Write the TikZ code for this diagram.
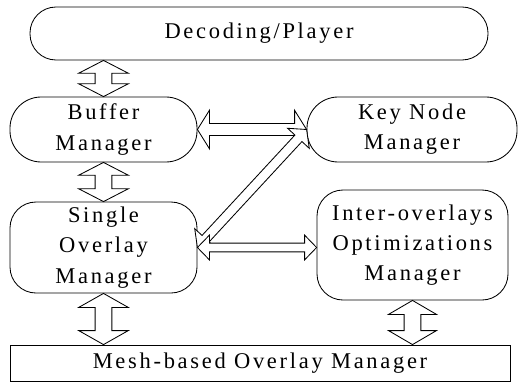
\documentclass[tikz,border=0pt]{standalone}
\usepackage{fontspec}
\setmainfont[LetterSpace=12]{Liberation Serif}
\usetikzlibrary{calc}

\tikzset{
	module/.style={draw, line width=0.6pt, rounded corners=0.65cm, align=center, inner sep=0pt,
		font=\fontsize{16}{21.5}\selectfont},
	layer/.style={draw, line width=0.6pt, align=center, inner sep=0pt,
		font=\fontsize{16}{21.5}\selectfont},
	hollow/.style={draw, line width=0.6pt, fill=white, line join=miter},
}

% 双向空心箭头: 起点, 终点, 半杆宽, 半头宽, 头长
\newcommand{\dblarrow}[5]{%
	\draw[hollow] (#1)
	-- ($(#1)!#5!(#2)!#4!90:(#2)$)
	-- ($(#1)!#5!(#2)!#3!90:(#2)$)
	-- ($(#2)!#5!(#1)!#3!-90:(#1)$)
	-- ($(#2)!#5!(#1)!#4!-90:(#1)$)
	-- (#2)
	-- ($(#2)!#5!(#1)!#4!90:(#1)$)
	-- ($(#2)!#5!(#1)!#3!90:(#1)$)
	-- ($(#1)!#5!(#2)!#3!-90:(#2)$)
	-- ($(#1)!#5!(#2)!#4!-90:(#2)$)
	-- cycle;}

\begin{document}
\begin{tikzpicture}
	
	% 画布大小
	\useasboundingbox (0,0) rectangle (13,9.575);
	
	% 各个模块
	\node[module, minimum width=11.45cm, minimum height=1.325cm] (dec) at (6.475,8.7375) {Decoding/Player};
	\node[module, rounded corners=0.78cm, minimum width=4.675cm, minimum height=1.625cm] (buffer) at (2.5875,6.3375) {Buffer\\Manager};
	\node[module, rounded corners=0.78cm, minimum width=5.25cm, minimum height=1.625cm] (key) at (10.3,6.3375) {Key Node\\Manager};
	\node[module, minimum width=4.675cm, minimum height=2.275cm] (single) at (2.5875,3.3875) {Single\\Overlay\\Manager};
	\node[module, minimum width=4.775cm, minimum height=2.75cm] (inter) at (10.3125,3.45) {Inter-overlays\\Optimizations\\Manager};
	\node[layer, minimum width=12.5cm, minimum height=0.9cm] (mesh) at (6.5,0.5) {Mesh-based Overlay Manager};
	
	% 箭头端点
	\coordinate (d1) at (buffer.north |- dec.south);
	\coordinate (m1) at (single.south |- mesh.north);
	\coordinate (m2) at (inter.south |- mesh.north);
	\coordinate (i1) at (inter.west |- single.east);
	
	% 竖直箭头
	\dblarrow{d1}{buffer.north}{0.21cm}{0.62cm}{0.32cm}
	\dblarrow{buffer.south}{single.north}{0.21cm}{0.62cm}{0.32cm}
	\dblarrow{single.south}{m1}{0.21cm}{0.62cm}{0.35cm}
	\dblarrow{inter.south}{m2}{0.21cm}{0.6cm}{0.35cm}
	
	% 横向与斜向箭头
	\dblarrow{buffer.east}{key.west}{0.15cm}{0.48cm}{0.3cm}
	\dblarrow{single.east}{key.west}{0.12cm}{0.37cm}{0.3cm}
	\dblarrow{single.east}{i1}{0.11cm}{0.31cm}{0.3cm}
	
\end{tikzpicture}
\end{document}
